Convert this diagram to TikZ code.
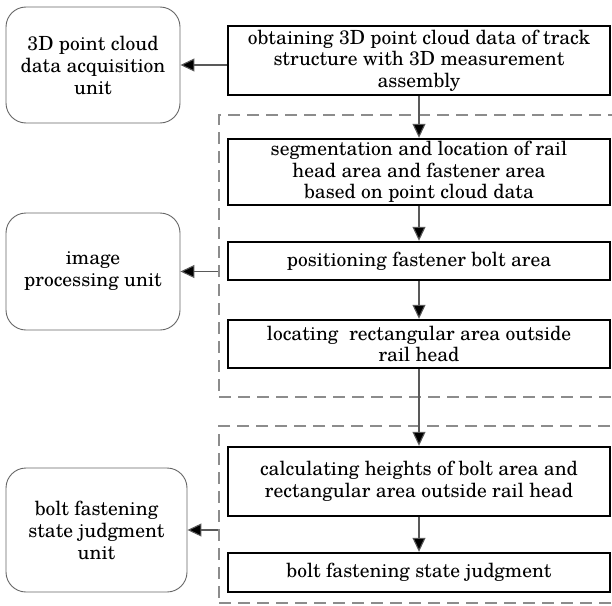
\documentclass[tikz,border=0pt]{standalone}
\usepackage{fontspec}
\setmainfont{TeX Gyre Schola}
\usetikzlibrary{arrows.meta}
\tikzset{
  stepbox/.style={draw=black, line width=2.4pt, minimum width=382pt, align=center, inner sep=0pt, font=\fontsize{19.5}{21.5}\selectfont},
  unitbox/.style={draw=black!60, line width=0.9pt, rounded corners=20pt, align=center, inner sep=0pt, font=\fontsize{19.5}{22}\selectfont},
  grp/.style={draw=black!45, line width=1.4pt, dash pattern=on 12pt off 7pt, inner sep=0pt},
  conn/.style={draw=black!65, line width=1.1pt, -{Triangle[length=14pt,width=13pt,fill=black]}},
}
\begin{document}
\begin{tikzpicture}[x=1pt,y=-1pt]
\useasboundingbox (0,0) rectangle (612,605);
\node[grp, minimum width=411pt, minimum height=282pt] (g1) at (424.5,256) {};
\node[grp, minimum width=411pt, minimum height=177pt] (g2) at (424.5,514.5) {};
\node[stepbox, minimum height=69pt] (a) at (419,60.5) {obtaining 3D point cloud data of track\\structure with 3D measurement\\assembly};
\node[stepbox, minimum height=66pt] (b) at (419,172) {segmentation and location of rail\\head area and fastener area\\based on point cloud data};
\node[stepbox, minimum height=38pt] (c) at (419,261) {positioning fastener bolt area};
\node[stepbox, minimum height=48pt] (d) at (419,344) {locating\ \ rectangular area outside\\rail head};
\node[stepbox, minimum height=69pt] (e) at (419,481.5) {calculating heights of bolt area and\\rectangular area outside rail head};
\node[stepbox, minimum height=39pt] (f) at (419,572.5) {bolt fastening state judgment};
\node[unitbox, minimum width=174pt, minimum height=116pt] (u1) at (93,65) {3D point cloud\\data acquisition\\unit};
\node[unitbox, minimum width=174pt, minimum height=117pt] (u2) at (93,271.5) {image\\processing unit};
\node[unitbox, minimum width=181pt, minimum height=124pt] (u3) at (96.5,530) {bolt fastening\\state judgment\\unit};
\draw[conn] (a.west |- u1.east) -- (u1.east);
\draw[conn] (g1.west |- u2.east) -- (u2.east);
\draw[conn] (g2.west |- u3.east) -- (u3.east);
\draw[conn] (a) -- (b);
\draw[conn] (b) -- (c);
\draw[conn] (c) -- (d);
\draw[conn] (d) -- (e);
\draw[conn] (e) -- (f);
\end{tikzpicture}
\end{document}
